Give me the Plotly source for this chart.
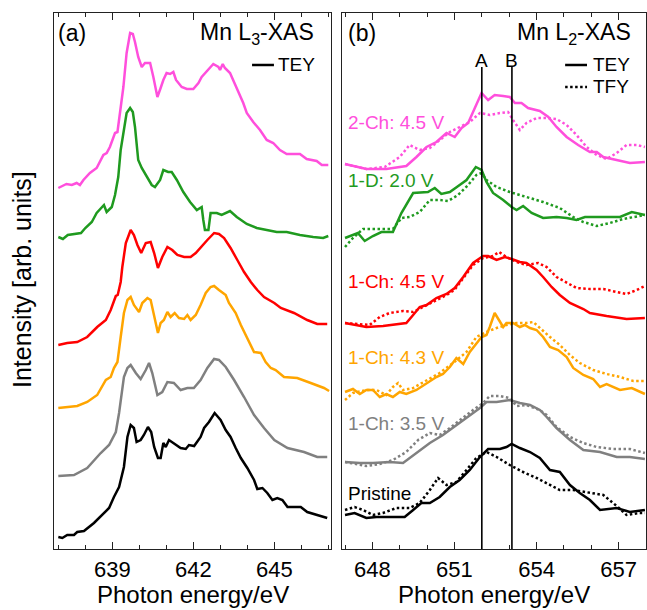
import plotly.graph_objects as go

# ---------------- Panel (a): Mn L3-XAS, TEY ----------------
a_2ch45_E = [637.0, 637.3, 637.5, 637.68, 637.8, 637.93, 638.17, 638.42, 638.67, 638.79, 638.91, 639.1, 639.19, 639.29, 639.41, 639.53, 639.66, 639.76, 639.84, 639.96, 640.09, 640.21, 640.4, 640.52, 640.67, 640.79, 640.89, 641.01, 641.14, 641.26, 641.36, 641.57, 641.76, 642.0, 642.19, 642.31, 642.5, 642.74, 642.93, 642.99, 643.09, 643.17, 643.36, 643.48, 643.67, 643.85, 643.98, 644.22, 644.47, 644.72, 644.96, 645.21, 645.46, 645.95, 646.2, 646.57, 646.76, 647.0]
a_2ch45_I = [3.61, 3.65, 3.64, 3.66, 3.64, 3.69, 3.76, 3.81, 3.94, 3.96, 4.02, 4.16, 4.17, 4.39, 4.62, 4.96, 5.16, 5.15, 5.07, 4.92, 4.82, 4.86, 4.86, 4.72, 4.52, 4.61, 4.69, 4.76, 4.75, 4.77, 4.69, 4.62, 4.60, 4.60, 4.66, 4.72, 4.78, 4.85, 4.82, 4.79, 4.85, 4.81, 4.76, 4.69, 4.57, 4.46, 4.36, 4.27, 4.19, 4.09, 4.06, 3.99, 3.95, 3.95, 3.90, 3.88, 3.84, 3.84]

a_1d20_E = [637.0, 637.17, 637.35, 637.6, 637.84, 638.0, 638.24, 638.42, 638.6, 638.69, 638.79, 638.98, 639.1, 639.22, 639.31, 639.43, 639.53, 639.66, 639.76, 639.84, 639.96, 640.09, 640.27, 640.46, 640.58, 640.77, 640.89, 641.07, 641.2, 641.39, 641.63, 641.88, 642.13, 642.31, 642.37, 642.43, 642.56, 642.64, 642.87, 643.05, 643.36, 643.61, 643.98, 644.35, 644.72, 645.09, 645.46, 645.95, 646.44, 646.81, 647.0]
a_1d20_I = [3.12, 3.10, 3.14, 3.15, 3.16, 3.21, 3.27, 3.36, 3.42, 3.44, 3.37, 3.42, 3.54, 3.72, 3.99, 4.22, 4.36, 4.41, 4.37, 4.22, 3.89, 3.81, 3.72, 3.64, 3.62, 3.69, 3.79, 3.77, 3.77, 3.69, 3.57, 3.47, 3.39, 3.42, 3.29, 3.19, 3.19, 3.36, 3.36, 3.34, 3.38, 3.32, 3.25, 3.21, 3.19, 3.17, 3.17, 3.14, 3.12, 3.11, 3.13]

a_1ch45_E = [637.0, 637.33, 637.7, 638.07, 638.44, 638.76, 638.94, 639.13, 639.2, 639.31, 639.37, 639.5, 639.68, 639.8, 639.93, 640.07, 640.24, 640.42, 640.55, 640.69, 640.85, 641.04, 641.22, 641.41, 641.66, 641.9, 642.09, 642.27, 642.52, 642.77, 642.95, 643.14, 643.38, 643.63, 643.88, 644.13, 644.37, 644.62, 645.0, 645.24, 645.73, 646.22, 646.59, 646.96]
a_1ch45_I = [2.04, 2.06, 2.07, 2.12, 2.22, 2.29, 2.39, 2.53, 2.54, 2.67, 2.82, 3.06, 3.19, 3.14, 3.04, 2.96, 3.06, 3.07, 2.96, 2.81, 2.92, 3.02, 2.99, 2.94, 2.92, 2.92, 2.96, 3.01, 3.09, 3.16, 3.15, 3.11, 3.01, 2.89, 2.77, 2.67, 2.59, 2.52, 2.46, 2.41, 2.36, 2.29, 2.25, 2.25]

a_1ch43_E = [637.0, 637.33, 637.7, 638.07, 638.44, 638.76, 638.94, 639.06, 639.19, 639.31, 639.43, 639.56, 639.68, 639.8, 639.99, 640.11, 640.3, 640.42, 640.55, 640.69, 640.79, 640.91, 641.04, 641.16, 641.31, 641.47, 641.66, 641.78, 641.9, 642.09, 642.27, 642.46, 642.64, 642.77, 642.95, 643.2, 643.32, 643.57, 643.76, 644.0, 644.25, 644.5, 644.68, 644.87, 645.05, 645.36, 645.85, 646.35, 646.84, 647.03]
a_1ch43_I = [1.41, 1.42, 1.43, 1.47, 1.54, 1.69, 1.72, 1.81, 1.87, 2.12, 2.36, 2.49, 2.52, 2.44, 2.37, 2.46, 2.51, 2.49, 2.32, 2.16, 2.26, 2.29, 2.37, 2.32, 2.36, 2.31, 2.30, 2.34, 2.29, 2.34, 2.44, 2.56, 2.62, 2.63, 2.59, 2.54, 2.46, 2.36, 2.24, 2.11, 1.97, 1.96, 1.87, 1.81, 1.79, 1.72, 1.71, 1.66, 1.61, 1.58]

a_1ch35_E = [637.0, 637.58, 638.07, 638.57, 638.88, 639.13, 639.25, 639.35, 639.43, 639.56, 639.68, 639.87, 640.05, 640.24, 640.36, 640.48, 640.67, 640.85, 641.04, 641.28, 641.53, 641.78, 642.02, 642.27, 642.52, 642.77, 642.95, 643.2, 643.51, 643.88, 644.25, 644.62, 645.0, 645.49, 646.1, 646.59, 646.96]
a_1ch35_I = [0.73, 0.74, 0.81, 0.96, 1.04, 1.17, 1.36, 1.59, 1.72, 1.81, 1.84, 1.76, 1.70, 1.79, 1.86, 1.76, 1.54, 1.57, 1.67, 1.66, 1.59, 1.61, 1.61, 1.69, 1.81, 1.90, 1.89, 1.82, 1.69, 1.52, 1.34, 1.21, 1.09, 1.01, 0.97, 0.92, 0.92]

a_pristine_E = [637.0, 637.15, 637.33, 637.58, 637.7, 637.95, 638.32, 638.69, 638.88, 639.06, 639.25, 639.43, 639.56, 639.68, 639.8, 639.9, 640.05, 640.17, 640.32, 640.44, 640.55, 640.69, 640.79, 640.89, 640.98, 641.1, 641.28, 641.53, 641.72, 641.84, 642.03, 642.27, 642.4, 642.58, 642.79, 643.01, 643.2, 643.38, 643.57, 643.76, 644.0, 644.25, 644.37, 644.56, 644.74, 644.93, 645.11, 645.3, 645.49, 645.98, 646.22, 646.59, 646.96]
a_pristine_I = [0.12, 0.11, 0.14, 0.14, 0.17, 0.18, 0.26, 0.36, 0.41, 0.52, 0.62, 0.82, 1.12, 1.24, 1.21, 1.07, 1.09, 1.14, 1.22, 1.17, 1.02, 0.91, 0.91, 1.06, 1.02, 1.09, 1.06, 1.01, 1.00, 1.04, 1.03, 1.12, 1.21, 1.27, 1.36, 1.29, 1.19, 1.12, 1.01, 0.91, 0.81, 0.69, 0.60, 0.61, 0.56, 0.49, 0.51, 0.49, 0.42, 0.42, 0.37, 0.34, 0.31]

# ---------------- Panel (b): Mn L2-XAS, TEY and TFY ----------------
b_2ch45_tey_E = [647.0, 647.41, 647.78, 648.51, 649.24, 649.61, 649.98, 650.34, 650.71, 651.01, 651.26, 651.5, 651.74, 651.99, 652.23, 652.47, 652.78, 653.02, 653.21, 653.45, 653.69, 654.12, 654.43, 654.73, 655.1, 655.52, 655.95, 656.2, 656.44, 656.93, 657.41, 657.96]
b_2ch45_tey_I = [3.85, 3.82, 3.80, 3.80, 3.83, 3.92, 4.02, 4.07, 4.16, 4.12, 4.21, 4.26, 4.41, 4.56, 4.49, 4.54, 4.53, 4.52, 4.46, 4.46, 4.41, 4.38, 4.32, 4.22, 4.12, 4.04, 3.97, 3.97, 3.92, 3.89, 3.86, 3.87]
b_2ch45_tfy_E = [647.0, 647.78, 648.45, 649.0, 649.36, 649.73, 650.1, 650.46, 650.83, 651.19, 651.56, 651.93, 652.29, 652.66, 652.96, 653.14, 653.39, 653.63, 654.0, 654.37, 654.73, 655.1, 655.46, 655.83, 656.2, 656.56, 656.93, 657.29, 657.66, 657.96]
b_2ch45_tfy_I = [3.85, 3.80, 3.82, 3.92, 4.04, 3.99, 4.01, 4.09, 4.17, 4.22, 4.27, 4.36, 4.34, 4.36, 4.37, 4.29, 4.19, 4.26, 4.31, 4.31, 4.30, 4.24, 4.14, 4.02, 3.94, 3.90, 3.96, 4.04, 4.04, 4.02]

b_1d20_tey_E = [647.0, 647.47, 647.72, 648.02, 648.33, 648.75, 649.06, 649.49, 650.03, 650.28, 650.52, 650.83, 651.19, 651.44, 651.78, 651.99, 652.17, 652.41, 652.78, 653.09, 653.27, 653.51, 653.82, 654.24, 654.73, 655.1, 655.46, 655.77, 656.32, 657.05, 657.48, 657.96]
b_1d20_tey_I = [3.11, 3.16, 3.08, 3.13, 3.17, 3.17, 3.36, 3.56, 3.57, 3.61, 3.55, 3.57, 3.64, 3.69, 3.82, 3.79, 3.67, 3.56, 3.49, 3.42, 3.39, 3.43, 3.36, 3.31, 3.32, 3.31, 3.29, 3.32, 3.32, 3.32, 3.37, 3.34]
b_1d20_tfy_E = [647.0, 647.29, 647.66, 648.27, 648.75, 649.06, 649.36, 649.73, 650.1, 650.46, 650.77, 651.13, 651.5, 651.8, 651.99, 652.17, 652.54, 653.02, 653.63, 654.24, 654.85, 655.34, 655.71, 656.2, 656.68, 657.17, 657.96]
b_1d20_tfy_I = [3.02, 3.11, 3.20, 3.20, 3.20, 3.31, 3.32, 3.37, 3.49, 3.49, 3.48, 3.54, 3.64, 3.74, 3.76, 3.69, 3.62, 3.57, 3.52, 3.47, 3.41, 3.32, 3.27, 3.23, 3.26, 3.30, 3.34]

b_1ch45_tey_E = [647.0, 647.78, 648.39, 649.24, 649.49, 649.73, 649.98, 650.34, 650.71, 651.01, 651.32, 651.68, 652.05, 652.23, 652.54, 652.84, 653.09, 653.39, 653.63, 654.0, 654.24, 654.55, 654.85, 655.22, 655.71, 655.95, 656.56, 657.29, 657.96]
b_1ch45_tey_I = [2.26, 2.22, 2.23, 2.26, 2.34, 2.42, 2.44, 2.51, 2.55, 2.61, 2.72, 2.86, 2.93, 2.93, 2.89, 2.92, 2.90, 2.87, 2.86, 2.79, 2.72, 2.62, 2.54, 2.46, 2.40, 2.36, 2.33, 2.30, 2.31]
b_1ch45_tfy_E = [647.0, 647.9, 648.27, 648.63, 649.12, 649.49, 649.85, 650.34, 650.71, 651.0, 651.32, 651.68, 652.05, 652.41, 652.63, 652.9, 653.27, 653.63, 654.06, 654.37, 654.73, 655.1, 655.46, 655.95, 656.44, 656.93, 657.29, 657.66, 657.96]
b_1ch45_tfy_I = [2.26, 2.24, 2.32, 2.36, 2.38, 2.37, 2.42, 2.49, 2.54, 2.59, 2.71, 2.84, 2.91, 2.93, 2.97, 2.92, 2.87, 2.84, 2.86, 2.82, 2.72, 2.66, 2.61, 2.60, 2.60, 2.57, 2.55, 2.59, 2.63]

b_1ch43_tey_E = [647.0, 647.29, 647.54, 647.78, 648.02, 648.27, 648.51, 648.75, 649.0, 649.24, 649.61, 649.98, 650.34, 650.58, 650.83, 651.07, 651.32, 651.56, 651.8, 651.99, 652.17, 652.29, 652.47, 652.66, 652.78, 652.9, 653.14, 653.39, 653.57, 653.76, 654.0, 654.24, 654.49, 654.79, 655.1, 655.34, 655.71, 656.07, 656.32, 656.56, 657.05, 657.48, 657.96]
b_1ch43_tey_I = [1.57, 1.60, 1.55, 1.59, 1.59, 1.52, 1.55, 1.52, 1.57, 1.55, 1.59, 1.66, 1.72, 1.75, 1.82, 1.91, 1.85, 1.97, 2.06, 2.12, 2.14, 2.22, 2.36, 2.27, 2.22, 2.26, 2.26, 2.22, 2.24, 2.21, 2.19, 2.12, 2.02, 1.99, 1.92, 1.81, 1.74, 1.70, 1.62, 1.65, 1.59, 1.61, 1.55]
b_1ch43_tfy_E = [647.0, 647.29, 647.78, 648.15, 648.51, 648.75, 648.94, 649.12, 649.49, 649.98, 650.46, 650.95, 651.44, 651.8, 652.17, 652.54, 652.9, 653.27, 653.63, 653.88, 654.12, 654.49, 654.85, 655.22, 655.58, 656.07, 656.56, 657.05, 657.54, 657.96]
b_1ch43_tfy_I = [1.49, 1.56, 1.59, 1.59, 1.54, 1.62, 1.66, 1.59, 1.61, 1.69, 1.76, 1.86, 1.97, 2.12, 2.17, 2.21, 2.24, 2.26, 2.26, 2.27, 2.21, 2.12, 2.04, 1.94, 1.86, 1.79, 1.75, 1.72, 1.68, 1.68]

b_1ch35_tey_E = [647.0, 647.54, 648.02, 648.63, 649.12, 649.61, 650.1, 650.58, 651.07, 651.56, 651.93, 652.17, 652.54, 653.02, 653.39, 653.76, 654.12, 654.37, 654.73, 655.22, 655.71, 656.32, 656.93, 657.41, 657.96]
b_1ch35_tey_I = [0.87, 0.86, 0.86, 0.87, 0.86, 0.96, 1.06, 1.14, 1.24, 1.34, 1.41, 1.47, 1.47, 1.49, 1.46, 1.44, 1.39, 1.32, 1.21, 1.09, 0.99, 0.97, 0.92, 0.92, 0.90]
b_1ch35_tfy_E = [647.0, 647.78, 648.27, 648.75, 649.24, 649.67, 650.1, 650.46, 650.83, 651.19, 651.68, 652.05, 652.29, 652.66, 653.02, 653.27, 653.63, 654.12, 654.37, 654.73, 655.22, 655.71, 656.2, 656.81, 657.41, 657.96]
b_1ch35_tfy_I = [0.87, 0.83, 0.85, 0.89, 0.97, 1.09, 1.16, 1.14, 1.21, 1.29, 1.39, 1.46, 1.53, 1.53, 1.51, 1.43, 1.44, 1.39, 1.34, 1.22, 1.12, 1.06, 1.02, 1.00, 1.00, 0.96]

b_pristine_tey_E = [647.0, 647.35, 647.78, 648.15, 648.51, 648.88, 649.18, 649.49, 649.79, 650.1, 650.46, 650.83, 651.19, 651.56, 651.93, 652.23, 652.66, 652.9, 653.09, 653.39, 653.76, 654.12, 654.49, 654.85, 655.22, 655.58, 655.95, 656.32, 656.93, 657.41, 657.96]
b_pristine_tey_I = [0.34, 0.36, 0.31, 0.32, 0.32, 0.32, 0.32, 0.39, 0.46, 0.46, 0.52, 0.62, 0.69, 0.79, 0.92, 1.00, 1.00, 1.02, 1.05, 1.01, 0.97, 0.91, 0.79, 0.77, 0.64, 0.56, 0.49, 0.39, 0.41, 0.37, 0.39]
b_pristine_tfy_E = [647.0, 647.35, 647.66, 648.02, 648.39, 648.88, 649.36, 649.73, 650.1, 650.4, 650.71, 651.07, 651.44, 651.8, 652.17, 652.54, 653.02, 653.51, 654.0, 654.49, 654.85, 655.34, 655.83, 656.44, 656.93, 657.29, 657.77, 657.96]
b_pristine_tfy_I = [0.39, 0.42, 0.39, 0.34, 0.36, 0.41, 0.41, 0.46, 0.59, 0.71, 0.64, 0.67, 0.79, 0.91, 0.97, 0.92, 0.84, 0.77, 0.71, 0.64, 0.59, 0.59, 0.57, 0.54, 0.43, 0.34, 0.36, 0.36]

peak_A = 652.0
peak_B = 653.1
peak_line_top = 4.82

labels = ["2-Ch: 4.5 V", "1-D: 2.0 V", "1-Ch: 4.5 V", "1-Ch: 4.3 V", "1-Ch: 3.5 V", "Pristine"]
colors = ["#ff4fdc", "#1f9a1f", "#ff0000", "#ffa500", "#808080", "#000000"]
label_ypos = [0.795, 0.687, 0.500, 0.358, 0.235, 0.104]

a_E = [a_2ch45_E, a_1d20_E, a_1ch45_E, a_1ch43_E, a_1ch35_E, a_pristine_E]
a_I = [a_2ch45_I, a_1d20_I, a_1ch45_I, a_1ch43_I, a_1ch35_I, a_pristine_I]
b_tey_E = [b_2ch45_tey_E, b_1d20_tey_E, b_1ch45_tey_E, b_1ch43_tey_E, b_1ch35_tey_E, b_pristine_tey_E]
b_tey_I = [b_2ch45_tey_I, b_1d20_tey_I, b_1ch45_tey_I, b_1ch43_tey_I, b_1ch35_tey_I, b_pristine_tey_I]
b_tfy_E = [b_2ch45_tfy_E, b_1d20_tfy_E, b_1ch45_tfy_E, b_1ch43_tfy_E, b_1ch35_tfy_E, b_pristine_tfy_E]
b_tfy_I = [b_2ch45_tfy_I, b_1d20_tfy_I, b_1ch45_tfy_I, b_1ch43_tfy_I, b_1ch35_tfy_I, b_pristine_tfy_I]

FONT = "Liberation Sans, Arial, sans-serif"
LW = 2.5

fig = go.Figure()
for i in range(6):
    fig.add_trace(go.Scatter(x=a_E[i], y=a_I[i], mode="lines", xaxis="x", yaxis="y",
                             line=dict(color=colors[i], width=LW), showlegend=False))
for i in range(6):
    fig.add_trace(go.Scatter(x=b_tfy_E[i], y=b_tfy_I[i], mode="lines", xaxis="x2", yaxis="y2",
                             line=dict(color=colors[i], width=LW, dash="2.5px,2.5px"), showlegend=False))
    fig.add_trace(go.Scatter(x=b_tey_E[i], y=b_tey_I[i], mode="lines", xaxis="x2", yaxis="y2",
                             line=dict(color=colors[i], width=LW), showlegend=False))

axis_common = dict(showline=True, linecolor="#222", linewidth=1.3, mirror="allticks",
                   ticks="inside", ticklen=7, tickwidth=1.3, tickcolor="#222",
                   showgrid=False, zeroline=False,
                   tickfont=dict(family=FONT, size=22, color="#000"),
                   minor=dict(dtick=1, ticks="inside", ticklen=4, tickwidth=1.3, tickcolor="#222"))

fig.update_layout(
    width=647, height=610,
    margin=dict(l=0, r=0, t=0, b=0),
    paper_bgcolor="white", plot_bgcolor="white",
    font=dict(family=FONT, color="#000"),
    xaxis=dict(domain=[54/647, 331/647], range=[636.84, 647.1], tick0=639, dtick=3, anchor="y", **axis_common),
    xaxis2=dict(domain=[342/647, 646/647], range=[646.89, 658.0], tick0=648, dtick=3, anchor="y2", **axis_common),
    yaxis=dict(domain=[61/610, 597/610], range=[0, 5.36], showline=True, linecolor="#222", linewidth=1.3,
               mirror=True, ticks="", showticklabels=False, showgrid=False, zeroline=False, anchor="x"),
    yaxis2=dict(domain=[61/610, 597/610], range=[0, 5.36], showline=True, linecolor="#222", linewidth=1.3,
                mirror=True, ticks="", showticklabels=False, showgrid=False, zeroline=False, anchor="x2"),
)

shapes = []
for xv in [peak_A, peak_B]:
    shapes.append(dict(type="line", xref="x2", yref="y2", x0=xv, x1=xv, y0=0, y1=peak_line_top,
                       line=dict(color="#000", width=1.6)))
# legend samples
shapes.append(dict(type="line", xref="x domain", yref="y domain", x0=0.715, x1=0.794, y0=0.903, y1=0.903,
                   line=dict(color="#000", width=LW)))
shapes.append(dict(type="line", xref="x2 domain", yref="y2 domain", x0=0.734, x1=0.806, y0=0.903, y1=0.903,
                   line=dict(color="#000", width=LW)))
shapes.append(dict(type="line", xref="x2 domain", yref="y2 domain", x0=0.734, x1=0.806, y0=0.862, y1=0.862,
                   line=dict(color="#000", width=LW, dash="2.5px,2.5px")))
fig.update_layout(shapes=shapes)

ann = []
def add_text(text, x, y, xref, yref, size, color="#000", xanchor="left", yanchor="middle", angle=0):
    ann.append(dict(text=text, x=x, y=y, xref=xref, yref=yref, showarrow=False, xanchor=xanchor,
                    yanchor=yanchor, textangle=angle, font=dict(family=FONT, size=size, color=color)))

add_text("(a)", 0.008, 0.962, "x domain", "y domain", 23)
add_text("Mn L<sub>3</sub>-XAS", 0.945, 0.962, "x domain", "y domain", 23, xanchor="right")
add_text("TEY", 0.803, 0.903, "x domain", "y domain", 19)
add_text("(b)", 0.014, 0.962, "x2 domain", "y2 domain", 23)
add_text("Mn L<sub>2</sub>-XAS", 0.957, 0.962, "x2 domain", "y2 domain", 23, xanchor="right")
add_text("TEY", 0.820, 0.903, "x2 domain", "y2 domain", 19)
add_text("TFY", 0.820, 0.862, "x2 domain", "y2 domain", 19)
add_text("A", peak_A, 0.912, "x2", "y2 domain", 19, xanchor="center")
add_text("B", peak_B, 0.912, "x2", "y2 domain", 19, xanchor="center")
for lab, col, yp in zip(labels, colors, label_ypos):
    add_text(lab, 0.012, yp, "x2 domain", "y2 domain", 19, color=col)
add_text("Photon energy/eV", (54+331)/2/647, 0.0, "paper", "paper", 24, xanchor="center", yanchor="bottom")
add_text("Photon energy/eV", (342+646)/2/647, 0.0, "paper", "paper", 24, xanchor="center", yanchor="bottom")
add_text("Intensity [arb. units]", 22/647, 330/610, "paper", "paper", 25, xanchor="center", angle=-90)
fig.update_layout(annotations=ann)

fig.write_html("out.html")
